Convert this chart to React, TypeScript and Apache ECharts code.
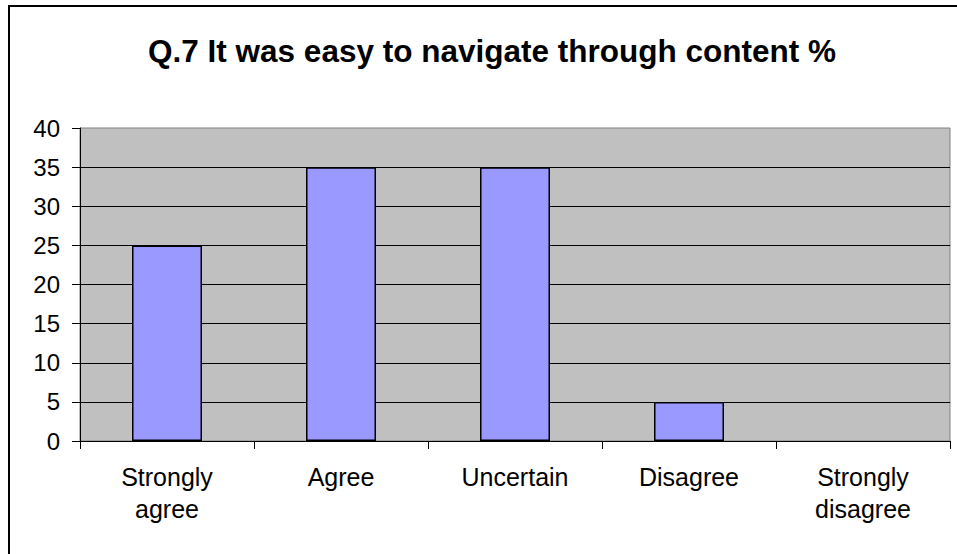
import React, { useEffect, useRef } from "react";
import * as echarts from "echarts";

const titleText = "Q.7 It was easy to navigate through content %";
const categories = ["Strongly\nagree", "Agree", "Uncertain", "Disagree", "Strongly\ndisagree"];
const values = [25, 35, 35, 5, 0];
const yMin = 0;
const yMax = 40;
const yStep = 5;

const FONT = "'Liberation Sans', Arial, sans-serif";

export default function App() {
  const ref = useRef<HTMLDivElement>(null);
  useEffect(() => {
    if (!ref.current) return;
    const chart = echarts.init(ref.current, null, { renderer: "svg" });
    chart.setOption({
      animation: false,
      backgroundColor: "#ffffff",
      title: {
        text: titleText,
        left: 487,
        top: 30,
        textAlign: "center",
        textStyle: { fontFamily: FONT, fontSize: 31.5, fontWeight: "bold", color: "#000" },
      },
      graphic: [
        {
          type: "rect",
          shape: { x: 9, y: 6, width: 1100, height: 700 },
          style: { fill: "none", stroke: "#000", lineWidth: 2 },
          silent: true,
        },
      ],
      grid: {
        left: 80,
        right: 7,
        top: 128,
        bottom: 113,
        show: true,
        backgroundColor: "#C0C0C0",
        borderColor: "#808080",
        borderWidth: 1,
      },
      xAxis: {
        type: "category",
        data: categories,
        axisLine: { lineStyle: { color: "#000", width: 1 } },
        axisTick: { show: true, length: 8, lineStyle: { color: "#000" } },
        axisLabel: {
          interval: 0,
          margin: 20,
          fontFamily: FONT,
          fontSize: 25,
          lineHeight: 32,
          color: "#000",
          align: "center",
        },
      },
      yAxis: {
        type: "value",
        min: yMin,
        max: yMax,
        interval: yStep,
        axisLine: { show: true, lineStyle: { color: "#000", width: 1 } },
        axisTick: { show: true, length: 8, lineStyle: { color: "#000" } },
        axisLabel: { margin: 20, fontFamily: FONT, fontSize: 24, color: "#000" },
        splitLine: { show: true, showMaxLine: false, showMinLine: false, lineStyle: { color: "#000", width: 1 } },
      },
      series: [
        {
          type: "bar",
          data: values.map((v) => (v === 0 ? { value: v, itemStyle: { borderWidth: 0, opacity: 0 } } : v)),
          barWidth: 70,
          itemStyle: { color: "#9999FF", borderColor: "#000", borderWidth: 1.5 },
        },
      ],
    });
    return () => chart.dispose();
  }, []);
  return (
    <div
      ref={ref}
      style={{ position: "absolute", left: 0, top: 0, width: 957, height: 554 }}
    />
  );
}
